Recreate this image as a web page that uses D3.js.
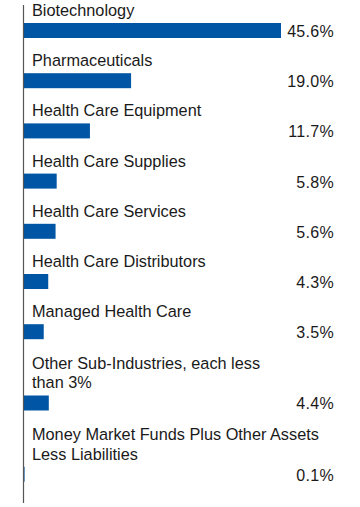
<!DOCTYPE html>
<html><head><meta charset="utf-8">
<script src="https://cdn.jsdelivr.net/npm/d3@7"></script>
<style>html,body{margin:0;padding:0;background:#fff;}svg{display:block;}</style>
</head><body>
<script>
const categories = [
  ["Biotechnology"],
  ["Pharmaceuticals"],
  ["Health Care Equipment"],
  ["Health Care Supplies"],
  ["Health Care Services"],
  ["Health Care Distributors"],
  ["Managed Health Care"],
  ["Other Sub-Industries, each less", "than 3%"],
  ["Money Market Funds Plus Other Assets", "Less Liabilities"]
];
const values = [45.6, 19.0, 11.7, 5.8, 5.6, 4.3, 3.5, 4.4, 0.1];
const valueLabels = ["45.6%", "19.0%", "11.7%", "5.8%", "5.6%", "4.3%", "3.5%", "4.4%", "0.1%"];

const W = 360, H = 507;
const axisX = 24;
const extraPerLine = 0.42;
const svg = d3.select("body").append("svg").attr("width", W).attr("height", H);

const x = d3.scaleLinear().domain([0, 45.6]).range([axisX, 281]);

const slots = [];
let acc = 0;
categories.forEach(c => { slots.push(acc); acc += 1 + extraPerLine * (c.length - 1); });
const y = d3.scaleLinear().domain([0, 1]).range([23, 73.2]);

const font = "Liberation Sans, Arial, sans-serif";
const rows = svg.selectAll("g.row").data(categories.map((c, i) => ({
  lines: c, v: values[i], lab: valueLabels[i], top: y(slots[i] + extraPerLine * (c.length - 1))
}))).join("g").attr("class", "row");

rows.append("rect")
  .attr("x", axisX)
  .attr("y", d => d.top)
  .attr("width", d => x(d.v) - x(0))
  .attr("height", 15)
  .attr("fill", "#0055a4");

rows.each(function(d) {
  const g = d3.select(this);
  const n = d.lines.length;
  d.lines.forEach((t, j) => {
    g.append("text")
      .attr("x", 32)
      .attr("y", d.top - 7 - (n - 1 - j) * 19.5)
      .attr("font-family", font)
      .attr("font-size", "16.3px")
      .attr("fill", "#1a1a1a")
      .text(t);
  });
  g.append("text")
    .attr("x", 334)
    .attr("y", d.top + 14)
    .attr("text-anchor", "end")
    .attr("font-family", font)
    .attr("font-size", "16px")
    .attr("letter-spacing", "0.3px")
    .attr("fill", "#1a1a1a")
    .text(d.lab);
});

svg.append("line")
  .attr("x1", axisX - 0.5).attr("x2", axisX - 0.5)
  .attr("y1", 5).attr("y2", 503)
  .attr("stroke", "#555").attr("stroke-width", 1.2);
</script>
</body></html>
